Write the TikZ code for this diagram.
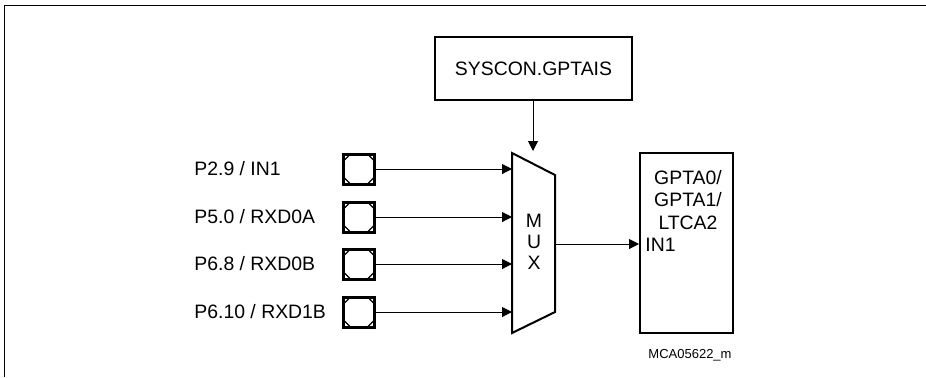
\documentclass[tikz,border=0pt]{standalone}
\usepackage{fontspec}
\setmainfont{Liberation Sans}
\usetikzlibrary{positioning,arrows.meta}
\begin{document}
\begin{tikzpicture}[x=0.5pt,y=-0.5pt,font=\fontsize{9.7}{11}\selectfont,
  blockbox/.style={draw,line width=1pt,inner sep=0pt},
  padbox/.style={draw,line width=1.5pt,minimum width=15.5pt,minimum height=15pt,inner sep=0pt,
    path picture={
      \draw[line width=0.6pt] ([xshift=3.5pt]path picture bounding box.north west) -- ([yshift=-3.5pt]path picture bounding box.north west);
      \draw[line width=0.6pt] ([xshift=-3.5pt]path picture bounding box.north east) -- ([yshift=-3.5pt]path picture bounding box.north east);
      \draw[line width=0.6pt] ([xshift=3.5pt]path picture bounding box.south west) -- ([yshift=3.5pt]path picture bounding box.south west);
      \draw[line width=0.6pt] ([xshift=-3.5pt]path picture bounding box.south east) -- ([yshift=3.5pt]path picture bounding box.south east);}},
  sig/.style={-{Triangle[length=5pt,width=5pt]},line width=0.5pt}]
\useasboundingbox (0,0) rectangle (926,377);
\draw[line width=0.5pt] (4,377) -- (4,5) -- (926,5);
% control register
\node[blockbox,minimum width=98.5pt,minimum height=31.5pt] (gptais) at (533.5,68.5) {SYSCON.GPTAIS};
% multiplexer
\coordinate (muxnw) at (512,153);\coordinate (muxne) at (555,175);
\coordinate (muxse) at (555,312);\coordinate (muxsw) at (512,333);
\draw[line width=1pt] (muxnw)--(muxne)--(muxse)--(muxsw)--cycle;
\node[align=center,font=\fontsize{9.7}{10.5}\selectfont] (muxlabel) at (534,242) {M\\U\\X};
\coordinate (muxsel) at (533,151);
\draw[sig] (gptais.south -| muxsel) -- (muxsel);
% timer module
\node[blockbox,minimum width=46.5pt,minimum height=90pt] (gpta) at (686.5,243) {};
\node[align=center,font=\fontsize{9.7}{11.2}\selectfont] (gptaname) at (688,200) {GPTA0/\\GPTA1/\\LTCA2};
\node[anchor=west,inner sep=0pt] (gptain) at (645,245) {IN1};
\coordinate (muxout) at (555,244);
\draw[sig] (muxout) -- (gpta.west |- muxout);
% input pins
\foreach \i/\y/\txt in {1/169/{P2.9 / IN1},2/217/{P5.0 / RXD0A},3/264/{P6.8 / RXD0B},4/312/{P6.10 / RXD1B}}{
  \node[padbox] (pad\i) at (359,\y) {};
  \node[anchor=west,inner sep=0pt] (pin\i) at (194,\y) {\txt};
  \coordinate (muxin\i) at (512,\y);
  \draw[sig] (pad\i.east) -- (muxin\i);
}
\node[font=\fontsize{6.5}{8}\selectfont] (figid) at (690,355) {MCA05622\_m};
\end{tikzpicture}
\end{document}
